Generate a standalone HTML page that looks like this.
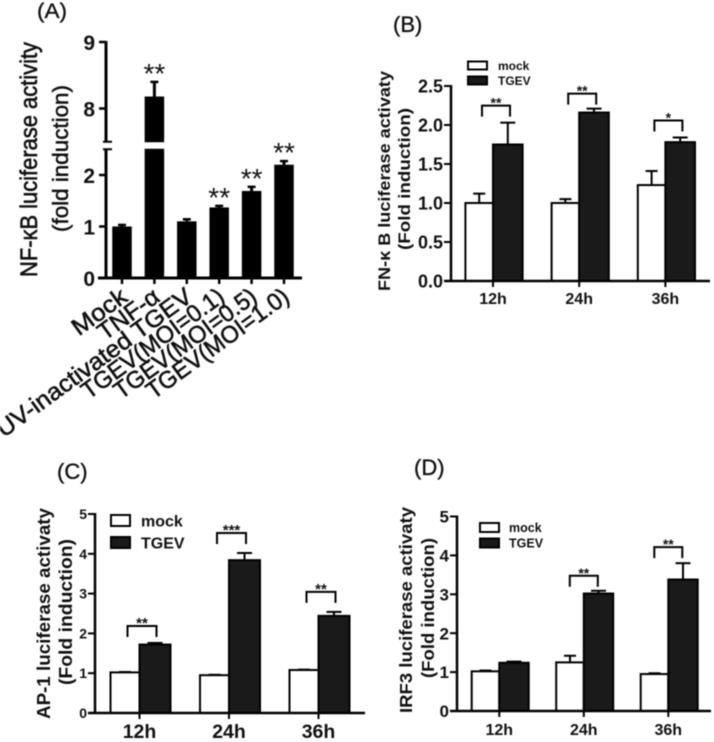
<!DOCTYPE html>
<html lang="en">
<head>
<meta charset="utf-8">
<title>NF-κB, AP-1 and IRF3 luciferase activity</title>
<style>
html,body{margin:0;padding:0;background:#fff;width:714px;height:742px;overflow:hidden}
svg{display:block;filter:blur(.55px)}
text{font-family:"Liberation Sans",sans-serif;fill:#111}
</style>
</head>
<body>
<svg id="chart" xmlns="http://www.w3.org/2000/svg" width="714" height="742" viewBox="0 0 714 742"></svg>
<script>
// Panel A data
const aCategories = ['Mock', 'TNF-α', 'UV-inactivated TGEV', 'TGEV(MOI=0.1)', 'TGEV(MOI=0.5)', 'TGEV(MOI=1.0)'];
const aValues = [1.0, 8.18, 1.1, 1.37, 1.69, 2.2];
const aErrors = [0.03, 0.22, 0.04, 0.03, 0.08, 0.07];
const aStars = ['', '**', '', '**', '**', '**'];
const aTicks = [0, 1, 2, 8, 9];
// Panel B data
const bGroups = ['12h', '24h', '36h'];
const bMock = [1.0, 1.0, 1.23];
const bMockErr = [0.12, 0.05, 0.18];
const bTgev = [1.75, 2.16, 1.78];
const bTgevErr = [0.28, 0.05, 0.06];
const bSig = ['**', '**', '*'];
const bTicks = ['0.0', '0.5', '1.0', '1.5', '2.0', '2.5'];
// Panel C data
const cGroups = ['12h', '24h', '36h'];
const cMock = [1.02, 0.95, 1.08];
const cMockErr = [0.01, 0.01, 0.01];
const cTgev = [1.72, 3.84, 2.44];
const cTgevErr = [0.04, 0.18, 0.1];
const cSig = ['**', '***', '**'];
const cTicks = ['0', '1', '2', '3', '4', '5'];
// Panel D data
const dGroups = ['12h', '24h', '36h'];
const dMock = [1.02, 1.25, 0.95];
const dMockErr = [0.02, 0.17, 0.02];
const dTgev = [1.24, 3.02, 3.38];
const dTgevErr = [0.03, 0.07, 0.42];
const dSig = ['', '**', '**'];
const dTicks = ['0', '1', '2', '3', '4', '5'];

const NS = 'http://www.w3.org/2000/svg';
const root = document.getElementById('chart');

function mk(tag, attrs, parent, text) {
  const el = document.createElementNS(NS, tag);
  for (const k in attrs) el.setAttribute(k, attrs[k]);
  if (text !== undefined) el.textContent = text;
  parent.appendChild(el);
  return el;
}
function line(parent, name, x1, y1, x2, y2, w) {
  const el = mk('line', {x1: x1, y1: y1, x2: x2, y2: y2, stroke: '#000', 'stroke-width': w}, parent);
  
  
  return el;
}
function rect(parent, name, x, y, w, h, fill, sw) {
  const el = mk('rect', {x: x, y: y, width: w, height: h, fill: fill, stroke: sw ? '#000' : 'none', 'stroke-width': sw || 0}, parent);
  
  
  return el;
}
function label(parent, name, str, x, y, size, opts) {
  const o = opts || {};
  const a = {x: x, y: y, 'font-size': size, 'font-weight': o.weight || 'bold', 'text-anchor': o.anchor || 'start'};
  if (o.len) { a.textLength = o.len; a.lengthAdjust = 'spacingAndGlyphs'; }
  if (o.rotate !== undefined) a.transform = 'rotate(' + o.rotate + ' ' + x + ' ' + y + ')';
  if (o.stroke) { a.stroke = '#111'; a['stroke-width'] = o.stroke; }
  const el = mk('text', a, parent, str);
  
  
  return el;
}
function group(name) {
  const el = mk('g', {}, root);
  
  
  return el;
}

/* ---------- Panel A: broken y axis ---------- */
(function () {
  const g = group('panel-a');
  const y0 = 278, lowUnit = 51.5, y8 = 108.5, highUnit = 66.5, breakLow = 2.5, breakHigh = 7.5;
  const y = v => v < 5 ? y0 - v * lowUnit : y8 - (v - 8) * highUnit;
  const x = i => 122 + i * 32.4;
  const axisX = 106;
  const labelSpans = [62, 70, 235, 170, 170, 170];
  label(g, 'panel-label-a', '(A)', 37, 18, 21, {weight: 'normal', len: 30, stroke: 0.35});
  label(g, 'y-axis-title', 'NF-κB luciferase activity', 37, 277, 24, {weight: 'normal', rotate: -90, len: 235, stroke: 0.6});
  label(g, 'y-axis-subtitle', '(fold induction)', 68, 232, 22, {weight: 'normal', rotate: -90, len: 147, stroke: 0.5});

  aValues.forEach((v, i) => {
    const cx = x(i), w = 19.5;
    const errTop = y(v + aErrors[i]);
    line(g, 'error-bar-a-' + i, cx, errTop, cx, y(v), 3);
    line(g, 'error-cap-a-' + i, cx - 4, errTop, cx + 4, errTop, 2.5);
    rect(g, 'bar-a-' + i, cx - w / 2, y(v), w, y0 - y(v), '#000');
    if (aStars[i]) label(g, 'significance-a-' + i, aStars[i], cx, errTop + 1, 28, {anchor: 'middle', weight: 'normal'});
    line(g, 'x-tick-a-' + i, cx, y0, cx, y0 + 6, 2.5);
    label(g, 'x-label-a-' + i, aCategories[i], cx + 7, y0 + 22, 24, {anchor: 'end', weight: 'normal', rotate: -36, len: labelSpans[i], stroke: 0.55});
  });

  line(g, 'y-axis-lower', axisX, y0 + 1, axisX, y(breakLow), 3);
  line(g, 'y-axis-upper', axisX, y(breakHigh), axisX, y(9) - 1, 3);
  line(g, 'x-axis', axisX - 8, y0, 302, y0, 3);
  rect(g, 'axis-break-gap', 112, y(breakHigh) + 0.5, 55, y(breakLow) - y(breakHigh) - 1, '#fff');
  line(g, 'break-mark-upper', axisX - 3, y(breakHigh), axisX + 6, y(breakHigh), 2);
  line(g, 'break-mark-lower', axisX - 3, y(breakLow), axisX + 6, y(breakLow), 2);
  aTicks.forEach(t => {
    line(g, 'y-tick-a-' + t, axisX - 7, y(t), axisX, y(t), 2.5);
    label(g, 'y-tick-label-a-' + t, String(t), 95, y(t) + 8, 21, {anchor: 'end'});
  });
})();

/* ---------- Panels B, C, D: grouped bars ---------- */
function groupedPanel(c) {
  const g = group(c.name);
  const y = v => c.y0 - v * c.unit;
  const x = i => c.first + i * c.step;
  label(g, 'panel-label-' + c.id, c.panelLabel, c.panelX, c.panelY, c.panelSize, {weight: 'normal', stroke: 0.35});
  label(g, 'y-axis-title-' + c.id, c.title, c.titleX, c.titleY, c.titleSize, {rotate: -90, len: c.titleLen});
  label(g, 'y-axis-subtitle-' + c.id, '(Fold induction)', c.subX, c.subY, c.titleSize, {rotate: -90, len: c.subLen});

  c.groups.forEach((name, i) => {
    const cx = x(i);
    const mx = cx - c.mockW, tx = cx + c.tgevW;
    const mockErrTop = y(c.mock[i] + c.mockErr[i]);
    const tgevErrTop = y(c.tgev[i] + c.tgevErr[i]);
    const mc = mx + c.mockW / 2, tc = cx + c.tgevW / 2;
    line(g, 'mock-error-' + c.id + '-' + i, mc, mockErrTop, mc, y(c.mock[i]), 2);
    line(g, 'mock-error-cap-' + c.id + '-' + i, mc - 6, mockErrTop, mc + 6, mockErrTop, 2);
    line(g, 'tgev-error-' + c.id + '-' + i, tc, tgevErrTop, tc, y(c.tgev[i]), 2);
    line(g, 'tgev-error-cap-' + c.id + '-' + i, tc - 7.5, tgevErrTop, tc + 7.5, tgevErrTop, 2);
    rect(g, 'mock-bar-' + c.id + '-' + i, mx, y(c.mock[i]), c.mockW, c.y0 - y(c.mock[i]), '#fff', 2);
    rect(g, 'tgev-bar-' + c.id + '-' + i, cx, y(c.tgev[i]), c.tgevW, c.y0 - y(c.tgev[i]), '#1a1a1a', 2);
    line(g, 'x-tick-' + c.id + '-' + i, cx, c.y0, cx, c.y0 + 6, 2);
    label(g, 'x-label-' + c.id + '-' + i, name, cx, c.xLabelY, c.xLabelSize, {anchor: 'middle'});

    if (c.sig[i]) {
      const top = Math.min(mockErrTop, tgevErrTop) - c.bracketGap[i];
      const bl = cx - c.bracketLeft, br = cx + c.bracketRight;
      const p = mk('path', {d: 'M' + bl + ' ' + (top + 11) + 'V' + top + 'H' + br + 'V' + (top + 11), fill: 'none', stroke: '#000', 'stroke-width': 2}, g);
      
      
      label(g, 'significance-stars-' + c.id + '-' + i, c.sig[i], (bl + br) / 2, top + c.starDy, c.starSize, {anchor: 'middle'});
    }
  });

  line(g, 'y-axis-' + c.id, c.axisX, c.y0 + 1, c.axisX, y((c.ticks.length - 1) * c.tickStep) - 1, 2.5);
  line(g, 'x-axis-' + c.id, c.axisX - 7, c.y0, c.axisRight, c.y0, 2.5);
  c.ticks.forEach((t, i) => {
    const ty = y(i * c.tickStep);
    line(g, 'y-tick-' + c.id + '-' + i, c.axisX - 7, ty, c.axisX, ty, 2);
    label(g, 'y-tick-label-' + c.id + '-' + i, t, c.axisX - 8, ty + c.tickSize * 0.36, c.tickSize, {anchor: 'end'});
  });

  rect(g, 'legend-swatch-mock-' + c.id, c.legX, c.legY1, c.legW, c.legH, '#fff', 2);
  rect(g, 'legend-swatch-tgev-' + c.id, c.legX, c.legY2, c.legW, c.legH, '#1a1a1a', 2);
  label(g, 'legend-label-mock-' + c.id, 'mock', c.legTextX, c.legY1 + c.legH / 2 + c.legSize * 0.36, c.legSize, {});
  label(g, 'legend-label-tgev-' + c.id, 'TGEV', c.legTextX, c.legY2 + c.legH / 2 + c.legSize * 0.36, c.legSize, {});
}

groupedPanel({
  id: 'b', name: 'panel-b', panelLabel: '(B)', panelX: 393, panelY: 32, panelSize: 22,
  title: 'FN-κ B luciferase activaty', titleX: 390, titleY: 291, titleSize: 17, titleLen: 220,
  subX: 410, subY: 250, subLen: 142,
  groups: bGroups, mock: bMock, mockErr: bMockErr, tgev: bTgev, tgevErr: bTgevErr, sig: bSig, ticks: bTicks,
  tickStep: 0.5, tickSize: 18, y0: 281, unit: 78, axisX: 451, axisRight: 710,
  first: 493, step: 86.2, mockW: 27.6, tgevW: 29.6, xLabelY: 304, xLabelSize: 16,
  bracketGap: [17, 15, 17], bracketLeft: 11, bracketRight: 17, starDy: 2, starSize: 14,
  legX: 468, legY1: 61.5, legY2: 76.5, legW: 19, legH: 8, legTextX: 498, legSize: 12
});
groupedPanel({
  id: 'c', name: 'panel-c', panelLabel: '(C)', panelX: 57, panelY: 479, panelSize: 22,
  title: 'AP-1 luciferase activaty', titleX: 50, titleY: 719, titleSize: 18, titleLen: 211,
  subX: 72, subY: 685, subLen: 146,
  groups: cGroups, mock: cMock, mockErr: cMockErr, tgev: cTgev, tgevErr: cTgevErr, sig: cSig, ticks: cTicks,
  tickStep: 1, tickSize: 14, y0: 713, unit: 39.8, axisX: 95, axisRight: 365,
  first: 139.5, step: 89.5, mockW: 29, tgevW: 31, xLabelY: 738, xLabelSize: 19.5,
  bracketGap: [17, 20, 20], bracketLeft: 12, bracketRight: 17, starDy: 2, starSize: 15,
  legX: 111, legY1: 515, legY2: 537, legW: 19, legH: 11, legTextX: 141, legSize: 16
});
groupedPanel({
  id: 'd', name: 'panel-d', panelLabel: '(D)', panelX: 414, panelY: 475, panelSize: 22,
  title: 'IRF3 luciferase activaty', titleX: 412, titleY: 713, titleSize: 17.5, titleLen: 206,
  subX: 434, subY: 678, subLen: 140,
  groups: dGroups, mock: dMock, mockErr: dMockErr, tgev: dTgev, tgevErr: dTgevErr, sig: dSig, ticks: dTicks,
  tickStep: 1, tickSize: 17, y0: 711, unit: 38.9, axisX: 457, axisRight: 711,
  first: 499.3, step: 84.5, mockW: 27.6, tgevW: 29.4, xLabelY: 735, xLabelSize: 16,
  bracketGap: [15, 15, 16], bracketLeft: 14, bracketRight: 14, starDy: 2, starSize: 14,
  legX: 480, legY1: 523, legY2: 538.5, legW: 19, legH: 9, legTextX: 509, legSize: 12.5
});
</script>
</body>
</html>
